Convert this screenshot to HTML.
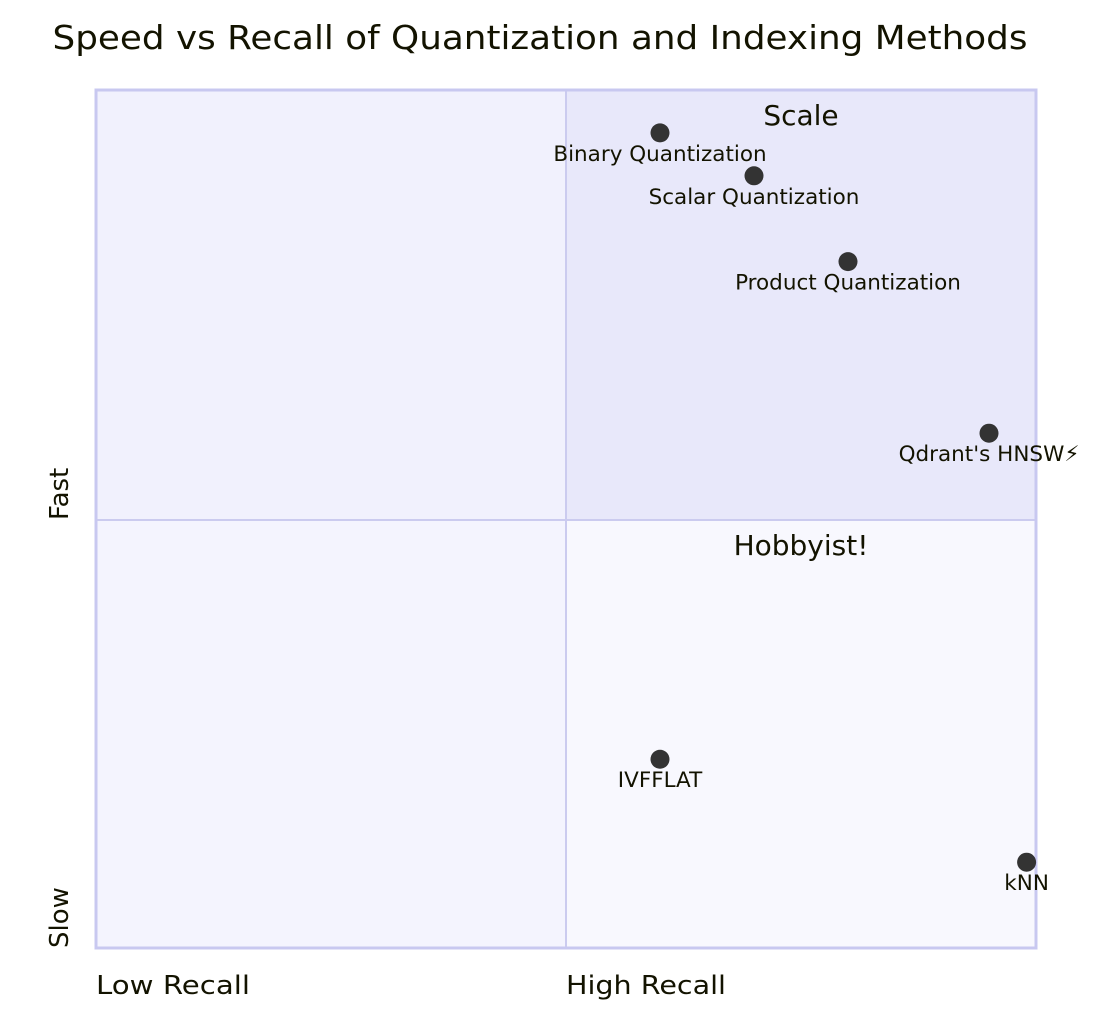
<!DOCTYPE html>
<html><head><meta charset="utf-8"><style>
body{margin:0;background:#fff;width:1104px;height:1018px;overflow:hidden}
svg text{font-family:"DejaVu Sans","Liberation Sans",sans-serif;fill:#131300}
</style></head><body>
<svg id="chart" width="1104" height="1018">
<text x="540" y="49" text-anchor="middle" font-size="33" textLength="975" lengthAdjust="spacingAndGlyphs">Speed vs Recall of Quantization and Indexing Methods</text>
<rect x="96" y="90" width="470" height="430" fill="#f1f1fd"/>
<rect x="566" y="90" width="470" height="430" fill="#e8e8fa"/>
<rect x="96" y="520" width="470" height="428" fill="#f4f4fe"/>
<rect x="566" y="520" width="470" height="428" fill="#f8f8fe"/>
<line x1="566" y1="90" x2="566" y2="948" stroke="#cbcbef" stroke-width="2"/>
<line x1="96" y1="520" x2="1036" y2="520" stroke="#cbcbef" stroke-width="2"/>
<rect x="96" y="90" width="940" height="858" fill="none" stroke="#c8c8f0" stroke-width="3"/>
<text x="801" y="125" text-anchor="middle" font-size="28">Scale</text>
<text x="801" y="555" text-anchor="middle" font-size="28">Hobbyist!</text>
<text x="96" y="994" font-size="26" textLength="154" lengthAdjust="spacingAndGlyphs">Low Recall</text>
<text x="566" y="994" font-size="26" textLength="160" lengthAdjust="spacingAndGlyphs">High Recall</text>
<text transform="translate(68,948) rotate(-90)" font-size="26">Slow</text>
<text transform="translate(68,520) rotate(-90)" font-size="26">Fast</text>
<g id="pts"></g>
</svg>
<script>
const names=["Binary Quantization","Scalar Quantization","Product Quantization","Qdrant's HNSW⚡","IVFFLAT","kNN"];
const recall=[0.6,0.7,0.8,0.95,0.6,0.99];
const speed=[0.95,0.9,0.8,0.6,0.22,0.1];
const X0=96,X1=1036,Y0=948,Y1=90;
const sx=v=>X0+v*(X1-X0), sy=v=>Y0-v*(Y0-Y1);
const g=document.getElementById('pts');
const NS='http://www.w3.org/2000/svg';
names.forEach((n,i)=>{
 const c=document.createElementNS(NS,'circle');
 c.setAttribute('cx',sx(recall[i]));c.setAttribute('cy',sy(speed[i]));c.setAttribute('r',9.5);c.setAttribute('fill','#333333');
 
 
 g.appendChild(c);
 const t=document.createElementNS(NS,'text');
 t.setAttribute('x',sx(recall[i]));t.setAttribute('y',sy(speed[i])+28);
 t.setAttribute('text-anchor','middle');t.setAttribute('font-size','21.5');
 t.textContent=n;
 
 
 g.appendChild(t);
});
</script>
</body></html>
